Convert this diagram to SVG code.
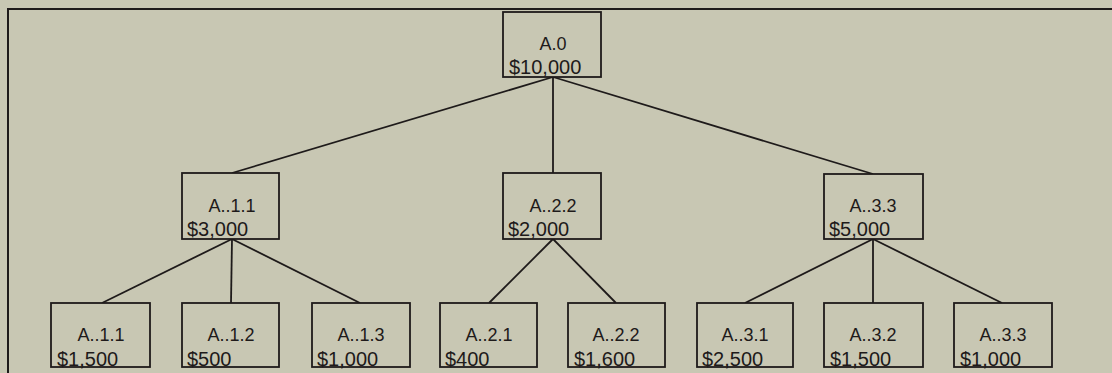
<svg xmlns="http://www.w3.org/2000/svg" width="1112" height="373" viewBox="0 0 1112 373">
<style>
.bg{fill:#c8c7b3}
.box{fill:#c8c7b3;stroke:#1e1a1a;stroke-width:1.8}
.frame{fill:none;stroke:#1e1a1a;stroke-width:2}
.conn line{stroke:#1e1a1a;stroke-width:1.8}
.lbl{font-family:"Liberation Sans",Arial,sans-serif;font-size:18px;fill:#1e1a1a;text-anchor:middle}
.amt{font-family:"Liberation Sans",Arial,sans-serif;font-size:20px;fill:#1e1a1a}
</style>
<rect class="bg" x="0" y="0" width="1112" height="373"/>
<path class="frame" d="M8,373 V9 H1112"/>
<g class="conn">
<line x1="553" y1="77" x2="232" y2="173"/>
<line x1="553" y1="77" x2="553" y2="173"/>
<line x1="553" y1="77" x2="873" y2="174"/>
<line x1="232" y1="239" x2="102" y2="303"/>
<line x1="232" y1="239" x2="231" y2="303"/>
<line x1="232" y1="239" x2="360" y2="303"/>
<line x1="553" y1="239" x2="489" y2="303"/>
<line x1="553" y1="239" x2="616" y2="303"/>
<line x1="873" y1="239" x2="745" y2="303"/>
<line x1="873" y1="239" x2="873" y2="303"/>
<line x1="873" y1="239" x2="1002" y2="303"/>
</g>
<g id="A0"><rect class="box" x="503" y="12" width="98" height="65"/><text class="lbl" x="553" y="50">A.0</text><text class="amt" x="509" y="74">$10,000</text></g>
<g id="A11"><rect class="box" x="182" y="173" width="97" height="66"/><text class="lbl" x="232" y="212">A..1.1</text><text class="amt" x="187" y="236">$3,000</text></g>
<g id="A22"><rect class="box" x="503" y="173" width="98" height="66"/><text class="lbl" x="553" y="212">A..2.2</text><text class="amt" x="508" y="236">$2,000</text></g>
<g id="A33"><rect class="box" x="824" y="174" width="99" height="65"/><text class="lbl" x="873" y="212">A..3.3</text><text class="amt" x="829" y="236">$5,000</text></g>
<g id="L111"><rect class="box" x="51" y="303" width="99" height="64"/><text class="lbl" x="101" y="341">A..1.1</text><text class="amt" x="57" y="366">$1,500</text></g>
<g id="L112"><rect class="box" x="182" y="303" width="97" height="64"/><text class="lbl" x="231" y="341">A..1.2</text><text class="amt" x="187" y="366">$500</text></g>
<g id="L113"><rect class="box" x="312" y="303" width="98" height="64"/><text class="lbl" x="361" y="341">A..1.3</text><text class="amt" x="317" y="366">$1,000</text></g>
<g id="L221"><rect class="box" x="440" y="303" width="97" height="64"/><text class="lbl" x="489" y="341">A..2.1</text><text class="amt" x="445" y="366">$400</text></g>
<g id="L222"><rect class="box" x="568" y="303" width="97" height="64"/><text class="lbl" x="616" y="341">A..2.2</text><text class="amt" x="574" y="366">$1,600</text></g>
<g id="L331"><rect class="box" x="697" y="303" width="96" height="64"/><text class="lbl" x="745" y="341">A..3.1</text><text class="amt" x="702" y="366">$2,500</text></g>
<g id="L332"><rect class="box" x="824" y="303" width="99" height="64"/><text class="lbl" x="873" y="341">A..3.2</text><text class="amt" x="830" y="366">$1,500</text></g>
<g id="L333"><rect class="box" x="954" y="303" width="98" height="64"/><text class="lbl" x="1003" y="341">A..3.3</text><text class="amt" x="960" y="366">$1,000</text></g>
</svg>
